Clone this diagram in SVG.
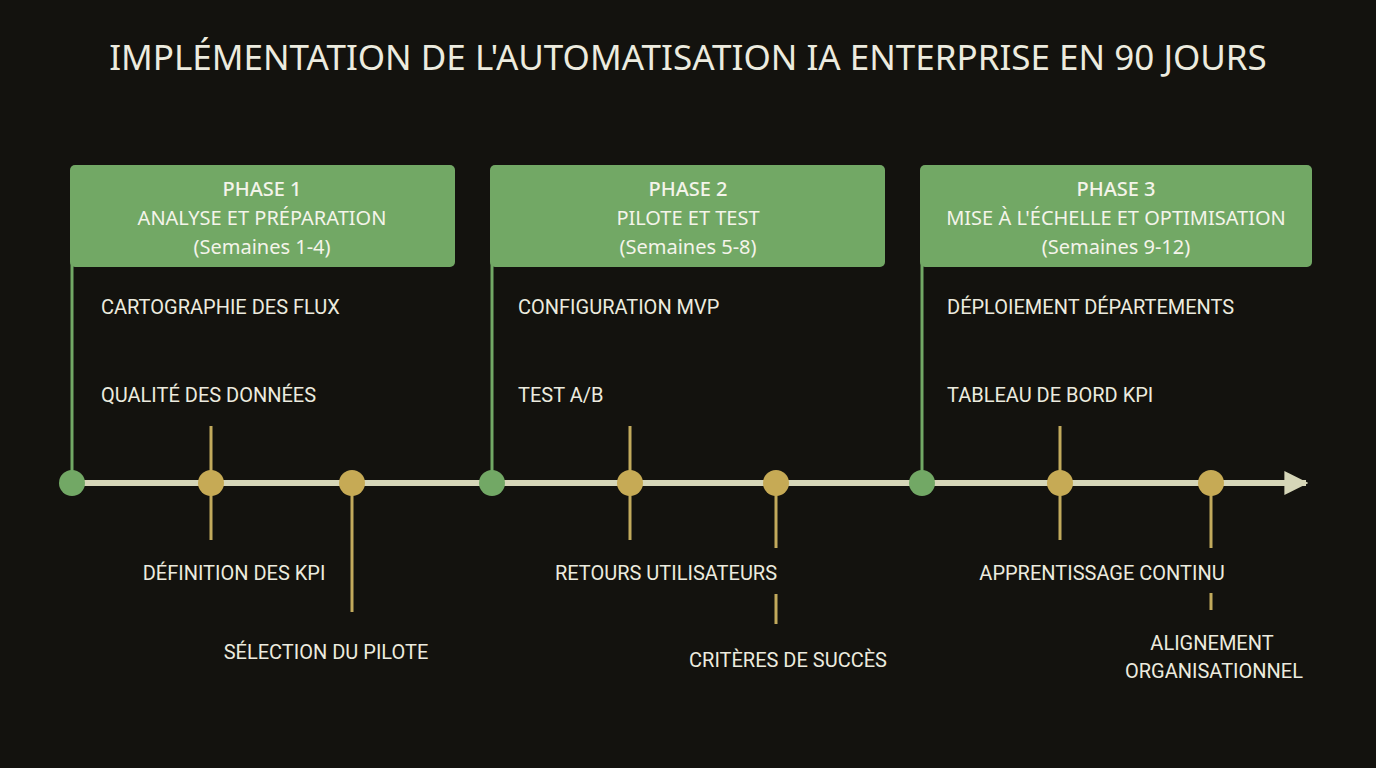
<svg xmlns="http://www.w3.org/2000/svg" width="1376" height="768" viewBox="0 0 1376 768">
<defs>
<style>
.t{font-family:"Noto Sans","Open Sans",sans-serif;fill:#ecebdf}
.h{font-family:"Noto Sans","Open Sans",sans-serif;fill:#f4f4ea;text-anchor:middle;font-size:20px}
.l{font-family:Roboto,"Liberation Sans",sans-serif;fill:#ecebdf;font-size:20px}
.box{fill:#72a865}
.gl{stroke:#72a865;stroke-width:3}
.gd{stroke:#c2aa5c;stroke-width:3}
.gn{fill:#72a865}
.yn{fill:#c6aa55}
</style>
<marker id="ar" viewBox="0 0 10 10" refX="9" refY="5" markerWidth="4" markerHeight="4" orient="auto" markerUnits="strokeWidth"><path d="M0,0L10,5L0,10z" fill="#d6d6b8"/></marker>
</defs>
<rect width="1376" height="768" fill="#13120e"/>
<text class="t" x="688" y="70" font-size="35" text-anchor="middle">IMPLÉMENTATION DE L'AUTOMATISATION IA ENTERPRISE EN 90 JOURS</text>
<g id="connectors">
<line x1="72" y1="483" x2="1306" y2="483" stroke="#d6d6b8" stroke-width="6" marker-end="url(#ar)"/>
<line class="gl" x1="72" y1="260" x2="72" y2="483"/>
<line class="gl" x1="492" y1="260" x2="492" y2="483"/>
<line class="gl" x1="922" y1="260" x2="922" y2="483"/>
<line class="gd" x1="211" y1="426" x2="211" y2="540"/>
<line class="gd" x1="352" y1="483" x2="352" y2="612"/>
<line class="gd" x1="630" y1="426" x2="630" y2="540"/>
<line class="gd" x1="776" y1="483" x2="776" y2="548"/>
<line class="gd" x1="776" y1="594" x2="776" y2="624"/>
<line class="gd" x1="1060" y1="426" x2="1060" y2="540"/>
<line class="gd" x1="1211" y1="483" x2="1211" y2="548"/>
<line class="gd" x1="1211" y1="593" x2="1211" y2="610"/>
</g>
<g id="phase1"><rect class="box" x="70" y="165" width="385" height="102" rx="5"/>
<text class="h" x="262" y="196" font-weight="500">PHASE 1</text><text class="h" x="262" y="225">ANALYSE ET PRÉPARATION</text><text class="h" x="262" y="254">(Semaines 1-4)</text></g>
<g id="phase2"><rect class="box" x="490" y="165" width="395" height="102" rx="5"/>
<text class="h" x="688" y="196" font-weight="500">PHASE 2</text><text class="h" x="688" y="225">PILOTE ET TEST</text><text class="h" x="688" y="254">(Semaines 5-8)</text></g>
<g id="phase3"><rect class="box" x="920" y="165" width="392" height="102" rx="5"/>
<text class="h" x="1116" y="196" font-weight="500">PHASE 3</text><text class="h" x="1116" y="225">MISE À L'ÉCHELLE ET OPTIMISATION</text><text class="h" x="1116" y="254">(Semaines 9-12)</text></g>
<g id="nodes">
<circle class="gn" cx="72" cy="483" r="13"/><circle class="gn" cx="492" cy="483" r="13"/><circle class="gn" cx="922" cy="483" r="13"/>
<circle class="yn" cx="211" cy="483" r="13"/><circle class="yn" cx="352" cy="483" r="13"/><circle class="yn" cx="630" cy="483" r="13"/>
<circle class="yn" cx="776" cy="483" r="13"/><circle class="yn" cx="1060" cy="483" r="13"/><circle class="yn" cx="1211" cy="483" r="13"/>
</g>
<g id="labels">
<text class="l" x="101" y="314">CARTOGRAPHIE DES FLUX</text>
<text class="l" x="101" y="402">QUALITÉ DES DONNÉES</text>
<text class="l" x="518" y="314">CONFIGURATION MVP</text>
<text class="l" x="518" y="402">TEST A/B</text>
<text class="l" x="947" y="314">DÉPLOIEMENT DÉPARTEMENTS</text>
<text class="l" x="947" y="402">TABLEAU DE BORD KPI</text>
<text class="l" x="234" y="580" text-anchor="middle">DÉFINITION DES KPI</text>
<text class="l" x="326" y="659" text-anchor="middle">SÉLECTION DU PILOTE</text>
<text class="l" x="666" y="580" text-anchor="middle">RETOURS UTILISATEURS</text>
<text class="l" x="788" y="667" text-anchor="middle">CRITÈRES DE SUCCÈS</text>
<text class="l" x="1102" y="580" text-anchor="middle">APPRENTISSAGE CONTINU</text>
<text class="l" x="1212" y="650" text-anchor="middle">ALIGNEMENT</text>
<text class="l" x="1214" y="678" text-anchor="middle">ORGANISATIONNEL</text>
</g>
</svg>
